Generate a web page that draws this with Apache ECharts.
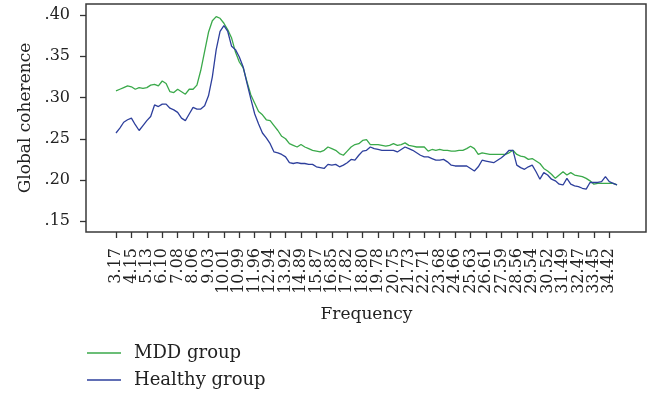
<!DOCTYPE html>
<html lang="en">
<head>
    <meta charset="UTF-8">
    <title>Global coherence</title>
    <script src="https://cdn.jsdelivr.net/npm/echarts@6/dist/echarts.min.js"></script>
</head>
<body style="margin:0;background:#fff;">
    <div id="main" style="width:654px;height:394px;"></div>
<script>
    // tick labels on the frequency axis (Hz), one every 4 bins
    var freqLabels = ['3.17', '4.15', '5.13', '6.10', '7.08', '8.06', '9.03', '10.01', '10.99', '11.96',
        '12.94', '13.92', '14.89', '15.87', '16.85', '17.82', '18.80', '19.78', '20.75', '21.73',
        '22.71', '23.68', '24.66', '25.63', '26.61', '27.59', '28.56', '29.54', '30.52', '31.49',
        '32.47', '33.45', '34.42'];

    var mdd = [0.308, 0.310, 0.312, 0.314, 0.313, 0.310, 0.312, 0.311, 0.312, 0.315,
        0.316, 0.314, 0.320, 0.317, 0.307, 0.306, 0.310, 0.307, 0.304, 0.310,
        0.310, 0.315, 0.333, 0.356, 0.379, 0.393, 0.398, 0.396, 0.390, 0.382,
        0.372, 0.355, 0.343, 0.336, 0.319, 0.303, 0.293, 0.283, 0.279, 0.273,
        0.272, 0.266, 0.260, 0.253, 0.250, 0.244, 0.242, 0.240, 0.243, 0.240,
        0.238, 0.236, 0.235, 0.234, 0.236, 0.240, 0.238, 0.236, 0.232, 0.230,
        0.235, 0.240, 0.243, 0.244, 0.248, 0.249, 0.243, 0.243, 0.243, 0.242,
        0.241, 0.242, 0.244, 0.242, 0.243, 0.245, 0.242, 0.241, 0.240, 0.240,
        0.240, 0.235, 0.237, 0.236, 0.237, 0.236, 0.236, 0.235, 0.235, 0.236,
        0.236, 0.238, 0.241, 0.238, 0.231, 0.233, 0.232, 0.231, 0.231, 0.231,
        0.231, 0.231, 0.233, 0.236, 0.231, 0.229, 0.228, 0.225, 0.226, 0.223,
        0.220, 0.214, 0.211, 0.207, 0.202, 0.206, 0.210, 0.206, 0.209, 0.206,
        0.205, 0.204, 0.202, 0.199, 0.195, 0.196, 0.196, 0.196, 0.196, 0.196,
        0.194];

    var healthy = [0.257, 0.263, 0.270, 0.273, 0.275, 0.267, 0.260, 0.266, 0.272, 0.277,
        0.291, 0.289, 0.292, 0.292, 0.287, 0.285, 0.282, 0.275, 0.272, 0.280,
        0.288, 0.286, 0.286, 0.290, 0.302, 0.325, 0.358, 0.380, 0.387, 0.380,
        0.362, 0.358, 0.349, 0.337, 0.317, 0.298, 0.280, 0.268, 0.257, 0.251,
        0.244, 0.234, 0.233, 0.231, 0.228, 0.221, 0.220, 0.221, 0.220, 0.220,
        0.219, 0.219, 0.216, 0.215, 0.214, 0.219, 0.218, 0.219, 0.216, 0.218,
        0.221, 0.225, 0.224, 0.230, 0.235, 0.236, 0.240, 0.238, 0.237, 0.236,
        0.236, 0.236, 0.236, 0.234, 0.237, 0.240, 0.238, 0.236, 0.233, 0.230,
        0.228, 0.228, 0.226, 0.224, 0.224, 0.225, 0.222, 0.218, 0.217, 0.217,
        0.217, 0.217, 0.214, 0.211, 0.216, 0.224, 0.223, 0.222, 0.221, 0.224,
        0.227, 0.231, 0.236, 0.236, 0.218, 0.215, 0.213, 0.216, 0.218, 0.210,
        0.201, 0.209, 0.206, 0.201, 0.199, 0.195, 0.194, 0.202, 0.195, 0.193,
        0.192, 0.190, 0.189, 0.197, 0.197, 0.197, 0.198, 0.204, 0.198, 0.196,
        0.194];

    var yTicks = [0.15, 0.20, 0.25, 0.30, 0.35, 0.40];

    // one category per bin, label only on every 4th
    var categories = mdd.map(function (v, i) {
        return i % 4 === 0 ? freqLabels[i / 4] : '';
    });
    var tickIdx = freqLabels.map(function (s, k) { return k * 4; });
    // labels are split over two stacked axes so the auto overlap check keeps all of them
    var evenIdx = tickIdx.filter(function (v, k) { return k % 2 === 0; });
    var oddIdx = tickIdx.filter(function (v, k) { return k % 2 === 1; });

    var font = 'DejaVu Serif';
    var ink = '#333';
    var labelStyle = { rotate: 90, margin: 16, fontFamily: font, fontSize: 16, color: '#222' };

    var chart = echarts.init(document.getElementById('main'));
    chart.setOption({
        animation: false,
        backgroundColor: '#fff',
        grid: [
            // data area
            { left: 116, right: 37, top: 4, bottom: 162 },
            // outer box
            { left: 86, right: 8, top: 4, bottom: 162, show: true, borderColor: '#3a3a3a', borderWidth: 1.5 }
        ],
        legend: {
            orient: 'vertical',
            left: 87,
            top: 344,
            padding: 0,
            itemWidth: 34,
            itemHeight: 1.5,
            itemGap: 9,
            icon: 'rect',
            formatter: '{g|}{t|{name}}',
            textStyle: {
                fontFamily: font, fontSize: 18, color: '#222',
                rich: {
                    g: { width: 8 },
                    t: { fontFamily: font, fontSize: 18, lineHeight: 18, color: '#222' }
                }
            },
            data: ['MDD group', 'Healthy group']
        },
        xAxis: [{
            type: 'category',
            gridIndex: 0,
            position: 'bottom',
            data: categories,
            boundaryGap: false,
            name: 'Frequency',
            nameLocation: 'middle',
            nameGap: 74,
            nameTextStyle: { fontFamily: font, fontSize: 17, color: '#222' },
            axisLine: { show: false },
            axisTick: { show: true, customValues: tickIdx, length: 6, lineStyle: { color: ink, width: 1.3 } },
            axisLabel: Object.assign({ customValues: evenIdx }, labelStyle),
            splitLine: { show: false }
        }, {
            type: 'category',
            gridIndex: 0,
            position: 'bottom',
            data: categories,
            boundaryGap: false,
            axisLine: { show: false },
            axisTick: { show: false },
            axisLabel: Object.assign({ customValues: oddIdx }, labelStyle),
            splitLine: { show: false }
        }, {
            type: 'value', gridIndex: 1, show: false, min: 0, max: 1
        }],
        yAxis: [{
            type: 'value',
            gridIndex: 0,
            min: 0.137,
            max: 0.4133,
            offset: 30,
            name: 'Global coherence',
            nameLocation: 'middle',
            nameGap: 51,
            nameTextStyle: { fontFamily: font, fontSize: 17, color: '#222' },
            axisLine: { show: false },
            axisTick: { show: true, customValues: yTicks, length: 6, lineStyle: { color: ink, width: 1.3 } },
            axisLabel: {
                customValues: yTicks,
                margin: 16,
                fontFamily: font,
                fontSize: 16,
                color: '#222',
                formatter: function (v) { return v.toFixed(2).replace(/^0/, ''); }
            },
            splitLine: { show: false }
        }, {
            type: 'value', gridIndex: 1, show: false, min: 0, max: 1
        }],
        series: [{
            name: 'MDD group',
            type: 'line',
            symbol: 'none',
            color: '#3aa94a',
            lineStyle: { width: 1.3, color: '#3aa94a' },
            data: mdd
        }, {
            name: 'Healthy group',
            type: 'line',
            symbol: 'none',
            color: '#2d3f9c',
            lineStyle: { width: 1.3, color: '#2d3f9c' },
            data: healthy
        }]
    });
</script>
</body>
</html>
